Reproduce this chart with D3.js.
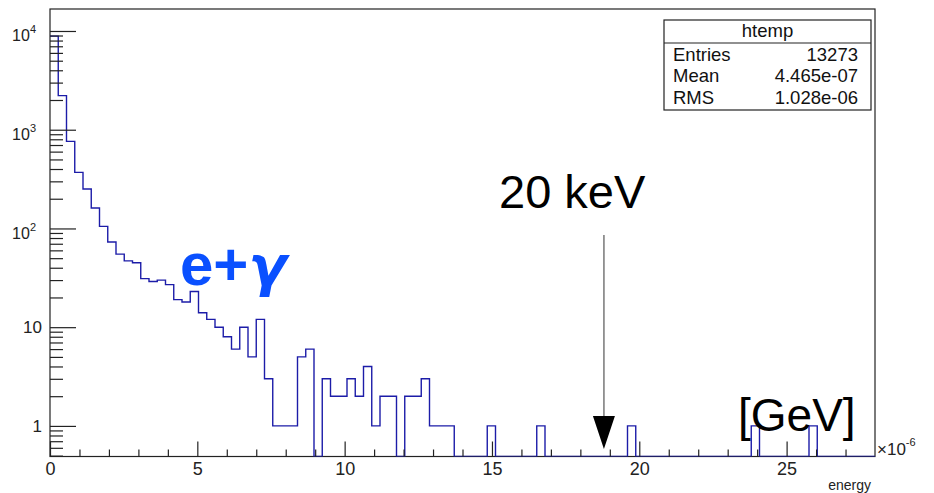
<!DOCTYPE html>
<html>
<head>
<meta charset="utf-8">
<script src="https://cdn.jsdelivr.net/npm/d3@7"></script>
<style>
  body { margin: 0; background: #fff; }
  svg { display: block; font-family: "Liberation Sans", Arial, sans-serif; }
</style>
</head>
<body>
<svg id="chart" width="934" height="493"></svg>
<script>
// energy histogram (htemp), 100 bins from 0 to 28 (x 1e-6 GeV)
const binLow = 0
const binHigh = 28
const counts = [
  8880, 2215, 762, 370, 251, 161, 105, 73, 55, 47,
  45, 31, 29, 30, 27, 19, 18, 23, 14, 12,
  10, 8, 6, 10, 5, 12, 3, 1, 1, 1,
  5, 6, 0, 3, 2, 2, 3, 2, 4, 1,
  2, 2, 0, 2, 2, 3, 1, 1, 1, 0,
  0, 0, 0, 1, 0, 0, 0, 0, 0, 1,
  0, 0, 0, 0, 0, 0, 0, 0, 0, 0,
  1, 0, 0, 0, 0, 0, 0, 0, 0, 0,
  0, 0, 0, 0, 0, 1, 0, 0, 0, 0,
  0, 0, 1, 0, 0, 0, 0, 0, 0, 0
]
const xMajorTicks = [0, 5, 10, 15, 20, 25]
const xMinorTicks = [1, 2, 3, 4, 6, 7, 8, 9, 11, 12, 13, 14, 16, 17, 18, 19, 21, 22, 23, 24, 26, 27]
const yMajorTicks = [1, 10, 100, 1000, 10000]
const yMinorTicks = [0.5, 0.6, 0.7, 0.8, 0.9,
  2, 3, 4, 5, 6, 7, 8, 9,
  20, 30, 40, 50, 60, 70, 80, 90,
  200, 300, 400, 500, 600, 700, 800, 900,
  2000, 3000, 4000, 5000, 6000, 7000, 8000, 9000]
const yDomain = [0.49, 16700]

const statsTitle = 'htemp'
const statsRows = [['Entries', '13273'], ['Mean', '4.465e-07'], ['RMS', '1.028e-06']]
const arrowAt = 18.8

const frame = { left: 50, top: 9, right: 875, bottom: 456.5 }
const ink = '#222'
const font = '"Liberation Sans", Arial, sans-serif'

const svg = d3.select('#chart')

const x = d3.scaleLinear().domain([binLow, binHigh]).range([frame.left, frame.right])
const y = d3.scaleLog().domain(yDomain).range([frame.bottom, frame.top])

// Frame
svg.append('rect')
  .attr('x', frame.left).attr('y', frame.top)
  .attr('width', frame.right - frame.left)
  .attr('height', frame.bottom - frame.top)
  .attr('fill', 'none').attr('stroke', ink).attr('stroke-width', 1.2)

// Histogram outline
svg.append('clipPath').attr('id', 'plotClip')
  .append('rect')
  .attr('x', frame.left).attr('y', frame.top)
  .attr('width', frame.right - frame.left)
  .attr('height', frame.bottom - frame.top)

const binWidth = (binHigh - binLow) / counts.length
const steps = counts.map((c, i) => [binLow + i * binWidth, c])
steps.push([binHigh, counts[counts.length - 1]])

const yc = v => v > 0 ? y(v) : frame.bottom
const line = d3.line()
  .x(d => x(d[0]))
  .y(d => yc(d[1]))
  .curve(d3.curveStepAfter)

svg.append('path')
  .attr('clip-path', 'url(#plotClip)')
  .attr('d', line(steps))
  .attr('fill', 'none')
  .attr('stroke', '#1c1ca8')
  .attr('stroke-width', 1.4)

// X axis
const xMajor = svg.append('g').attr('transform', `translate(0,${frame.bottom})`)
  .call(d3.axisBottom(x).tickValues(xMajorTicks).tickSizeInner(-15).tickSizeOuter(0).tickPadding(6).tickFormat(d3.format('d')))
xMajor.selectAll('text').attr('font-size', 18).attr('fill', ink).style('font-family', font)

const xMinor = svg.append('g').attr('transform', `translate(0,${frame.bottom})`)
  .call(d3.axisBottom(x).tickValues(xMinorTicks).tickSizeInner(-7).tickSizeOuter(0).tickFormat(''))

// Y axis
const yMajor = svg.append('g').attr('transform', `translate(${frame.left},0)`)
  .call(d3.axisLeft(y).tickValues(yMajorTicks).tickSizeInner(-26).tickSizeOuter(0).tickPadding(8).tickFormat(d => String(d)))
yMajor.selectAll('.tick text')
  .attr('font-size', 17).attr('fill', ink)
  .style('font-family', font)
  .each(function (d) {
    const exp = Math.round(Math.log10(d))
    if (exp < 2) return
    const t = d3.select(this)
    t.text(null).attr('x', -14).attr('dy', '0.6em').attr('font-size', 16)
    t.append('tspan').text('10')
    t.append('tspan').attr('font-size', 11).attr('dy', '-0.7em').text(String(exp))
  })

const yMinor = svg.append('g').attr('transform', `translate(${frame.left},0)`)
  .call(d3.axisLeft(y).tickValues(yMinorTicks).tickSizeInner(-13).tickSizeOuter(0).tickFormat(''))

;[xMajor, xMinor, yMajor, yMinor].forEach(g => {
  g.selectAll('.domain').remove()
  g.selectAll('line').attr('stroke', ink).attr('stroke-width', 1.2)
})

// Axis exponent and title
svg.append('text')
  .attr('x', 877).attr('y', 455)
  .attr('font-size', 17).attr('fill', ink)
  .call(t => {
    t.append('tspan').text('\u00d710')
    t.append('tspan').attr('font-size', 11).attr('dy', -9).text('-6')
  })

svg.append('text')
  .attr('x', 871).attr('y', 490)
  .attr('text-anchor', 'end')
  .attr('font-size', 14).attr('fill', ink)
  .text('energy')

// Stats box
const box = { left: 664, top: 20, right: 871, bottom: 110, split: 43 }
const stats = svg.append('g')
stats.append('rect')
  .attr('x', box.left).attr('y', box.top)
  .attr('width', box.right - box.left).attr('height', box.bottom - box.top)
  .attr('fill', '#fff').attr('stroke', ink).attr('stroke-width', 1.2)
stats.append('line')
  .attr('x1', box.left).attr('x2', box.right)
  .attr('y1', box.split).attr('y2', box.split)
  .attr('stroke', ink).attr('stroke-width', 1.2)
stats.append('text')
  .attr('x', (box.left + box.right) / 2).attr('y', 37)
  .attr('text-anchor', 'middle').attr('font-size', 18.5).attr('fill', '#111')
  .text(statsTitle)
statsRows.forEach((r, i) => {
  const by = 60.5 + i * 21.8
  stats.append('text').attr('x', 673).attr('y', by)
    .attr('font-size', 18.5).attr('fill', '#111').text(r[0])
  stats.append('text').attr('x', 858).attr('y', by)
    .attr('text-anchor', 'end').attr('font-size', 18.5).attr('fill', '#111').text(r[1])
})

// Annotations
svg.append('text')
  .attr('x', 180).attr('y', 285)
  .attr('font-size', 60).attr('font-weight', 'bold').attr('fill', '#0a50ff')
  .call(t => {
    t.append('tspan').text('e+')
    t.append('tspan').attr('font-style', 'italic')
      .attr('font-family', '"DejaVu Sans", sans-serif').attr('font-size', 56).text('\u03b3')
  })

svg.append('text')
  .attr('x', 499).attr('y', 208)
  .attr('font-size', 47).attr('fill', '#000')
  .text('20 keV')

const ax = x(arrowAt)
svg.append('line')
  .attr('x1', ax).attr('x2', ax)
  .attr('y1', 235).attr('y2', 418)
  .attr('stroke', '#777').attr('stroke-width', 1.5)
svg.append('path')
  .attr('d', `M${ax - 11},416 L${ax + 11},416 L${ax},449 Z`)
  .attr('fill', '#000')

svg.append('text')
  .attr('x', 738).attr('y', 431)
  .attr('font-size', 46).attr('fill', '#000')
  .text('[GeV]')
</script>
</body>
</html>
